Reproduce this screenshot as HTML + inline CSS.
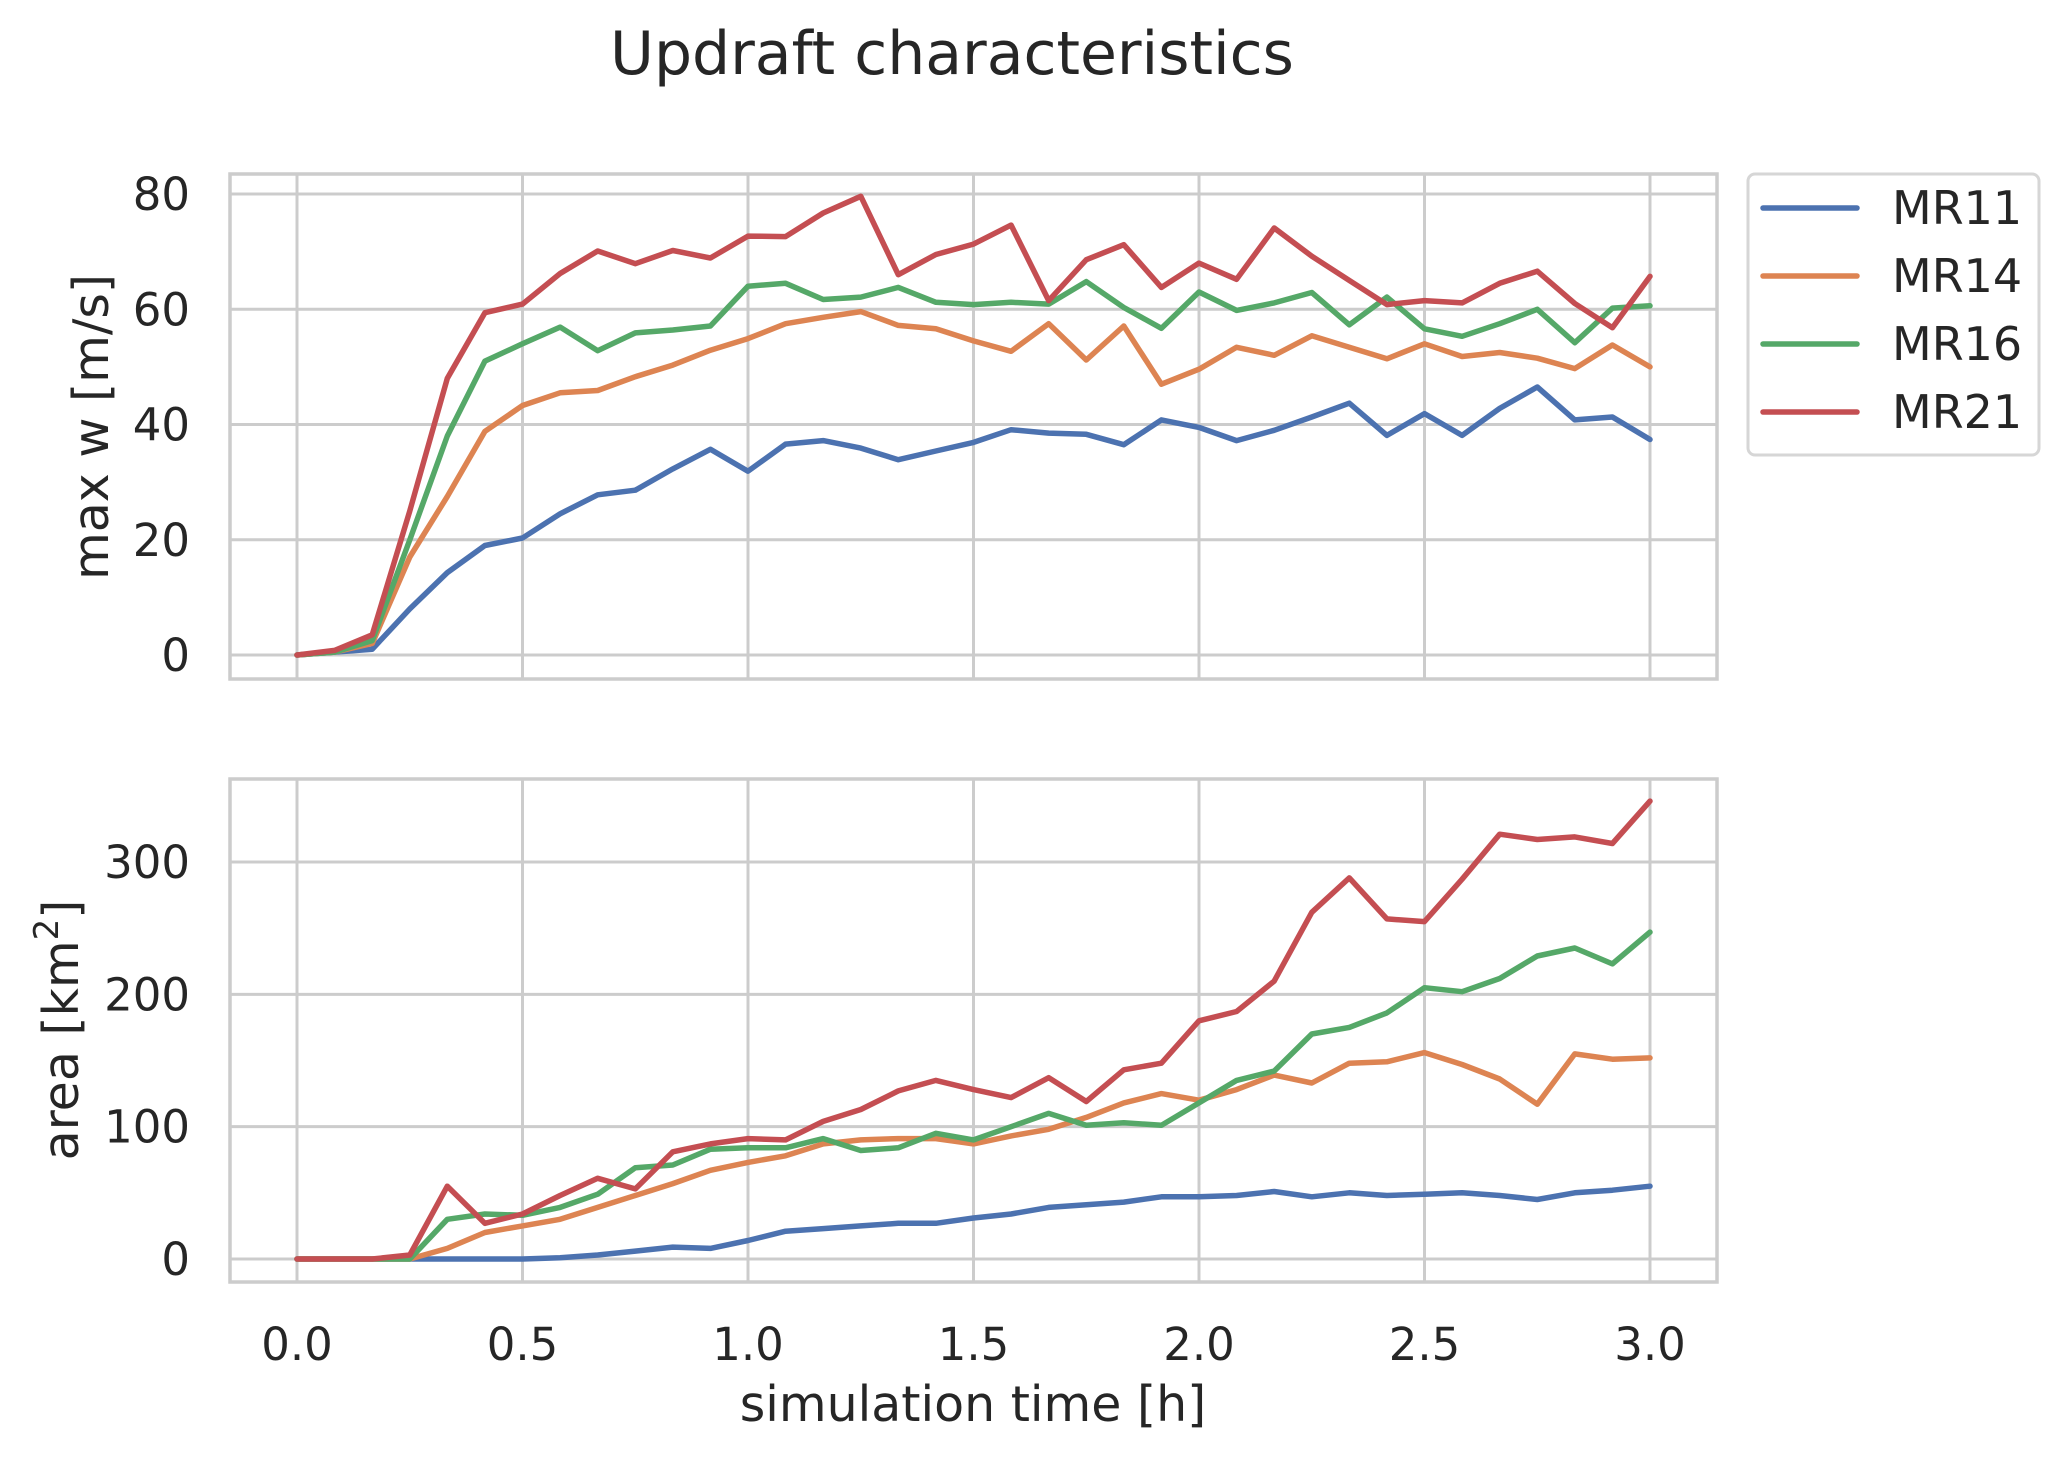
<!DOCTYPE html>
<html><head><meta charset="utf-8"><style>
html,body{margin:0;padding:0;background:#fff;}
svg text{font-family:"DejaVu Sans","Liberation Sans",sans-serif;fill:#262626;}
</style></head><body>
<svg id="chart" width="2070" height="1462" viewBox="0 0 2070 1462" xmlns="http://www.w3.org/2000/svg">
<text x="952" y="74" font-size="60" text-anchor="middle">Updraft characteristics</text>
<g id="top"></g>
<g id="bot"></g>
<text transform="translate(108,427) rotate(-90)" font-size="49" text-anchor="middle">max w [m/s]</text>
<text transform="translate(78,1030) rotate(-90)" font-size="49" text-anchor="middle">area [km<tspan baseline-shift="super" font-size="34">2</tspan>]</text>
<text x="973" y="1421" font-size="49" text-anchor="middle">simulation time [h]</text>
<g>
<rect x="1748" y="174" width="291" height="281" rx="7" fill="#fff" stroke="#d6d6d6" stroke-width="3"/>
<g id="leg"></g>
</g>
</svg>
<script>
const seriesNames = ["MR11","MR14","MR16","MR21"];
const colors = ["#4c72b0","#dd8452","#55a868","#c44e52"];
const xTicks = [0,0.5,1,1.5,2,2.5,3];
const xTickLabels = ["0.0","0.5","1.0","1.5","2.0","2.5","3.0"];
const wTicks = [0,20,40,60,80];
const aTicks = [0,100,200,300];
const wMR11 = [0,0.5,1,8,14.3,19,20.3,24.5,27.8,28.6,32.3,35.7,31.9,36.6,37.2,35.9,33.9,35.4,36.9,39.1,38.5,38.3,36.5,40.8,39.5,37.2,39,41.3,43.7,38.1,41.9,38.1,42.8,46.5,40.8,41.3,37.4];
const wMR14 = [0,0.5,2,17,27.5,38.8,43.3,45.5,45.9,48.3,50.3,52.9,54.9,57.5,58.6,59.6,57.2,56.6,54.5,52.7,57.5,51.2,57.1,47,49.6,53.4,52,55.4,53.4,51.4,54,51.8,52.5,51.5,49.7,53.8,50];
const wMR16 = [0,0.5,2.5,20,38,51,54,56.9,52.8,55.9,56.4,57.1,64,64.5,61.7,62.1,63.8,61.2,60.8,61.2,60.9,64.8,60.3,56.7,63,59.8,61.1,62.9,57.3,62.1,56.6,55.3,57.5,60,54.2,60.2,60.6];
const wMR21 = [0,0.8,3.5,25,48,59.4,60.9,66.2,70.1,67.9,70.2,68.9,72.7,72.6,76.7,79.6,66,69.5,71.3,74.6,61.5,68.6,71.2,63.8,68,65.2,74.1,69.2,65,60.8,61.5,61.1,64.5,66.6,61,56.8,65.7];
const aMR11 = [0,0,0,0,0,0,0,1,3,6,9,8,14,21,23,25,27,27,31,34,39,41,43,47,47,48,51,47,50,48,49,50,48,45,50,52,55];
const aMR14 = [0,0,0,0,8,20,25,30,39,48,57,67,73,78,87,90,91,91,87,93,98,107,118,125,120,128,139,133,148,149,156,147,136,117,155,151,152];
const aMR16 = [0,0,0,0,30,34,33,39,49,69,71,83,84,84,91,82,84,95,90,100,110,101,103,101,118,135,142,170,175,186,205,202,212,229,235,223,247];
const aMR21 = [0,0,0,3,55,27,34,48,61,53,81,87,91,90,104,113,127,135,128,122,137,119,143,148,180,187,210,262,288,257,255,287,321,317,319,314,346];
const dt = 1/12;

const NS="http://www.w3.org/2000/svg";
const X = v => 297 + v*451;
function mk(tag, attrs, parent){const e=document.createElementNS(NS,tag);for(const k in attrs)e.setAttribute(k,attrs[k]);parent.appendChild(e);return e;}

function panel(g, top, bottom, yfun, ticks, data, pname, showX){
  for(const t of xTicks){
    const l=mk('line',{x1:X(t),x2:X(t),y1:top,y2:bottom,stroke:'#cccccc','stroke-width':3},g);
    
    
  }
  ticks.forEach(t=>{
    const l=mk('line',{x1:230,x2:1717,y1:yfun(t),y2:yfun(t),stroke:'#cccccc','stroke-width':3},g);
    
    
    const tx=mk('text',{x:190,y:yfun(t)+16,'font-size':45,'text-anchor':'end'},g);
    tx.textContent=String(t);
    
    
  });
  data.forEach((arr,i)=>{
    const pts=arr.map((v,j)=>X(j*dt).toFixed(1)+','+yfun(v).toFixed(1)).join(' ');
    const p=mk('polyline',{points:pts,fill:'none',stroke:colors[i],'stroke-width':5.5,'stroke-linejoin':'round','stroke-linecap':'round'},g);
    
    
  });
  const r=mk('rect',{x:230,y:top,width:1487,height:bottom-top,fill:'none',stroke:'#cccccc','stroke-width':3.5},g);
  
  
  if(showX){
    xTicks.forEach((t,i)=>{
      const tx=mk('text',{x:X(t),y:1360,'font-size':45,'text-anchor':'middle'},g);
      tx.textContent=xTickLabels[i];
      
      
    });
  }
}
panel(document.getElementById('top'),174,679,v=>655-v*5.7625,wTicks,[wMR11,wMR14,wMR16,wMR21],'top',false);
panel(document.getElementById('bot'),779,1282,v=>1259-v*1.3233,aTicks,[aMR11,aMR14,aMR16,aMR21],'bottom',true);

const leg=document.getElementById('leg');
seriesNames.forEach((n,i)=>{
  const y=208+i*68;
  const l=mk('line',{x1:1763,x2:1857,y1:y,y2:y,stroke:colors[i],'stroke-width':5.5,'stroke-linecap':'round'},leg);
  
  
  const t=mk('text',{x:1892,y:y+16,'font-size':46},leg);
  t.textContent=n;
  
  
});
</script>
</body></html>
